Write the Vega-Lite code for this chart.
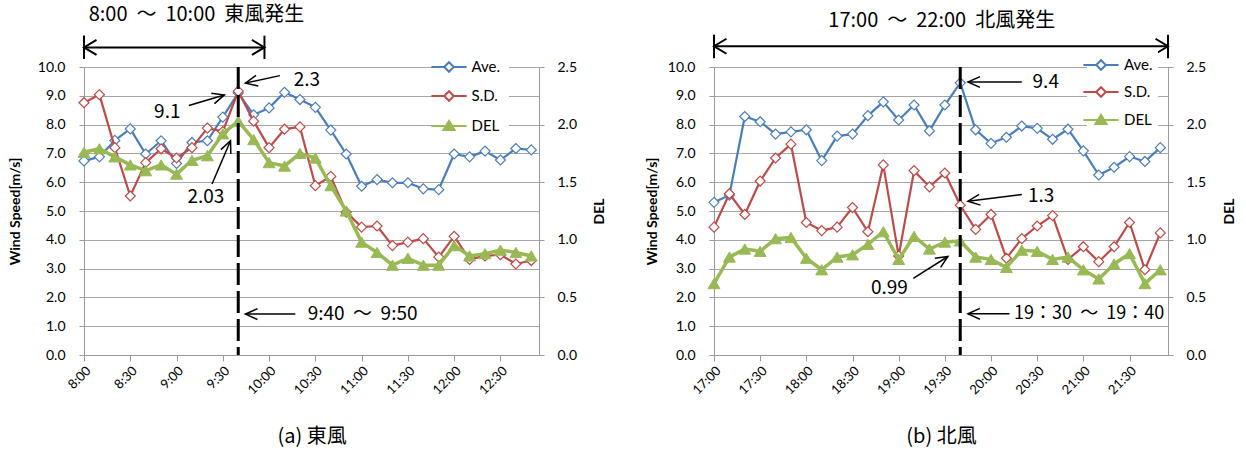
{
"$schema": "https://vega.github.io/schema/vega-lite/v6.json",
"background": "white",
"padding": {"left": 8, "right": 5, "top": 5, "bottom": 2},
"bounds": "flush",
"spacing": 175,
"config": {"view": {"stroke": null}, "font": "Lato",
  "axis": {"domainColor": "#9a9a9a", "tickColor": "#9a9a9a", "labelColor": "#000000", "titleColor": "#000000", "labelFont": "Lato", "titleFont": "Lato"}},
"datasets": {
 "east": [
  {"t":"2020-01-01T08:00","Ave":6.74,"SD":2.19,"DEL":1.76},
  {"t":"2020-01-01T08:10","Ave":6.88,"SD":2.26,"DEL":1.79},
  {"t":"2020-01-01T08:20","Ave":7.45,"SD":1.80,"DEL":1.72},
  {"t":"2020-01-01T08:30","Ave":7.85,"SD":1.38,"DEL":1.65},
  {"t":"2020-01-01T08:40","Ave":6.98,"SD":1.67,"DEL":1.60},
  {"t":"2020-01-01T08:50","Ave":7.44,"SD":1.79,"DEL":1.65},
  {"t":"2020-01-01T09:00","Ave":6.65,"SD":1.71,"DEL":1.57},
  {"t":"2020-01-01T09:10","Ave":7.38,"SD":1.80,"DEL":1.69},
  {"t":"2020-01-01T09:20","Ave":7.44,"SD":1.97,"DEL":1.73},
  {"t":"2020-01-01T09:30","Ave":8.26,"SD":1.94,"DEL":1.92},
  {"t":"2020-01-01T09:40","Ave":9.10,"SD":2.29,"DEL":2.03},
  {"t":"2020-01-01T09:50","Ave":8.34,"SD":2.03,"DEL":1.87},
  {"t":"2020-01-01T10:00","Ave":8.58,"SD":1.80,"DEL":1.67},
  {"t":"2020-01-01T10:10","Ave":9.12,"SD":1.96,"DEL":1.64},
  {"t":"2020-01-01T10:20","Ave":8.87,"SD":1.98,"DEL":1.75},
  {"t":"2020-01-01T10:30","Ave":8.60,"SD":1.47,"DEL":1.71},
  {"t":"2020-01-01T10:40","Ave":7.81,"SD":1.55,"DEL":1.47},
  {"t":"2020-01-01T10:50","Ave":6.98,"SD":1.24,"DEL":1.25},
  {"t":"2020-01-01T11:00","Ave":5.86,"SD":1.11,"DEL":0.98},
  {"t":"2020-01-01T11:10","Ave":6.09,"SD":1.12,"DEL":0.89},
  {"t":"2020-01-01T11:20","Ave":5.98,"SD":0.95,"DEL":0.78},
  {"t":"2020-01-01T11:30","Ave":5.98,"SD":0.98,"DEL":0.84},
  {"t":"2020-01-01T11:40","Ave":5.77,"SD":1.01,"DEL":0.78},
  {"t":"2020-01-01T11:50","Ave":5.74,"SD":0.85,"DEL":0.78},
  {"t":"2020-01-01T12:00","Ave":6.98,"SD":1.03,"DEL":0.95},
  {"t":"2020-01-01T12:10","Ave":6.88,"SD":0.83,"DEL":0.86},
  {"t":"2020-01-01T12:20","Ave":7.08,"SD":0.86,"DEL":0.88},
  {"t":"2020-01-01T12:30","Ave":6.77,"SD":0.87,"DEL":0.91},
  {"t":"2020-01-01T12:40","Ave":7.17,"SD":0.79,"DEL":0.89},
  {"t":"2020-01-01T12:50","Ave":7.12,"SD":0.82,"DEL":0.86}
 ],
 "north": [
  {"t":"2020-01-01T17:00","Ave":5.30,"SD":1.11,"DEL":0.62},
  {"t":"2020-01-01T17:10","Ave":5.55,"SD":1.40,"DEL":0.85},
  {"t":"2020-01-01T17:20","Ave":8.28,"SD":1.22,"DEL":0.92},
  {"t":"2020-01-01T17:30","Ave":8.10,"SD":1.51,"DEL":0.90},
  {"t":"2020-01-01T17:40","Ave":7.67,"SD":1.71,"DEL":1.01},
  {"t":"2020-01-01T17:50","Ave":7.75,"SD":1.83,"DEL":1.02},
  {"t":"2020-01-01T18:00","Ave":7.82,"SD":1.15,"DEL":0.84},
  {"t":"2020-01-01T18:10","Ave":6.75,"SD":1.08,"DEL":0.74},
  {"t":"2020-01-01T18:20","Ave":7.60,"SD":1.11,"DEL":0.85},
  {"t":"2020-01-01T18:30","Ave":7.67,"SD":1.28,"DEL":0.87},
  {"t":"2020-01-01T18:40","Ave":8.31,"SD":1.07,"DEL":0.96},
  {"t":"2020-01-01T18:50","Ave":8.79,"SD":1.65,"DEL":1.07},
  {"t":"2020-01-01T19:00","Ave":8.16,"SD":0.86,"DEL":0.83},
  {"t":"2020-01-01T19:10","Ave":8.68,"SD":1.60,"DEL":1.03},
  {"t":"2020-01-01T19:20","Ave":7.78,"SD":1.46,"DEL":0.92},
  {"t":"2020-01-01T19:30","Ave":8.68,"SD":1.58,"DEL":0.98},
  {"t":"2020-01-01T19:40","Ave":9.45,"SD":1.30,"DEL":0.99},
  {"t":"2020-01-01T19:50","Ave":7.82,"SD":1.09,"DEL":0.85},
  {"t":"2020-01-01T20:00","Ave":7.35,"SD":1.22,"DEL":0.83},
  {"t":"2020-01-01T20:10","Ave":7.56,"SD":0.84,"DEL":0.76},
  {"t":"2020-01-01T20:20","Ave":7.95,"SD":1.01,"DEL":0.91},
  {"t":"2020-01-01T20:30","Ave":7.87,"SD":1.12,"DEL":0.90},
  {"t":"2020-01-01T20:40","Ave":7.49,"SD":1.21,"DEL":0.83},
  {"t":"2020-01-01T20:50","Ave":7.84,"SD":0.83,"DEL":0.85},
  {"t":"2020-01-01T21:00","Ave":7.09,"SD":0.94,"DEL":0.74},
  {"t":"2020-01-01T21:10","Ave":6.25,"SD":0.81,"DEL":0.66},
  {"t":"2020-01-01T21:20","Ave":6.52,"SD":0.94,"DEL":0.79},
  {"t":"2020-01-01T21:30","Ave":6.89,"SD":1.15,"DEL":0.88},
  {"t":"2020-01-01T21:40","Ave":6.72,"SD":0.74,"DEL":0.62},
  {"t":"2020-01-01T21:50","Ave":7.20,"SD":1.06,"DEL":0.74}
 ]
},
"hconcat": [
 {
  "width": 455, "height": 288,
  "data": {"name": "east"},
  "layer": [
   {
    "encoding": {
     "x": {"field": "t", "type": "temporal",
       "scale": {"domain": [{"year":2020,"month":1,"date":1,"hours":8,"minutes":0},{"year":2020,"month":1,"date":1,"hours":12,"minutes":55}]},
       "axis": {"title": "(a) 東風", "titleFont": "Noto Sans CJK JP", "titleFontSize": 20, "titleFontWeight": "normal", "titlePadding": 30, "format": "%H:%M", "values": [
         {"year":2020,"month":1,"date":1,"hours":8,"minutes":0},{"year":2020,"month":1,"date":1,"hours":8,"minutes":30},
         {"year":2020,"month":1,"date":1,"hours":9,"minutes":0},{"year":2020,"month":1,"date":1,"hours":9,"minutes":30},
         {"year":2020,"month":1,"date":1,"hours":10,"minutes":0},{"year":2020,"month":1,"date":1,"hours":10,"minutes":30},
         {"year":2020,"month":1,"date":1,"hours":11,"minutes":0},{"year":2020,"month":1,"date":1,"hours":11,"minutes":30},
         {"year":2020,"month":1,"date":1,"hours":12,"minutes":0},{"year":2020,"month":1,"date":1,"hours":12,"minutes":30}],
         "labelExpr": "replace(datum.label, /^0/, '')", "labelAngle": -45, "labelFontSize": 13, "grid": false, "tickSize": 6, "labelPadding": 3}},
     "y": {"field": "Ave", "type": "quantitative", "scale": {"domain": [0, 10], "nice": false},
       "axis": {"title": "Wind Speed[m/s]", "titleFontSize": 14, "titleFontWeight": "bold", "titlePadding": 15, "values": [0,1,2,3,4,5,6,7,8,9,10], "format": ".1f", "labelFontSize": 14, "labelPadding": 14, "tickSize": 5, "grid": true, "gridColor": "#a6a6a6"}},
     "stroke": {"datum": "Ave.", "type": "nominal", "scale": {"domain": ["Ave.", "S.D.", "DEL"], "range": ["#4A7EBB", "#BE4B48", "#98B954"]},
       "legend": {"orient": "none", "legendX": 348, "legendY": -17, "title": null, "fillColor": "white", "padding": 8, "symbolSize": 256, "labelFontSize": 15, "labelColor": "black", "labelOffset": 13.5, "rowPadding": 11,
         "encode": {"symbols": {"update": {
           "shape": {"signal": "datum.value === 'DEL' ? 'M-2.2,0L2.2,0M0,-0.65L0.7,0.5L-0.7,0.5Z' : 'M-2.2,0L-0.6,0M0.6,0L2.2,0M-0.6,0L0,-0.6L0.6,0L0,0.6Z'"},
           "fill": {"signal": "datum.value === 'DEL' ? '#98B954' : 'white'"},
           "stroke": {"signal": "datum.value === 'Ave.' ? '#4A7EBB' : datum.value === 'S.D.' ? '#BE4B48' : '#98B954'"},
           "strokeWidth": {"value": 2}, "opacity": {"value": 1}, "size": {"value": 256}}}}}}
    },
    "layer": [
     {"mark": {"type": "line", "strokeWidth": 2.2, "strokeJoin": "round"}},
     {"mark": {"type": "point", "shape": "diamond", "size": 100, "filled": false, "fill": "white", "fillOpacity": 1, "strokeWidth": 1.2, "opacity": 1}}
    ]
   },
   {
    "encoding": {
     "x": {"field": "t", "type": "temporal", "scale": {"domain": [{"year":2020,"month":1,"date":1,"hours":8,"minutes":0},{"year":2020,"month":1,"date":1,"hours":12,"minutes":55}]}}
    },
    "layer": [
     {"mark": {"type": "line", "strokeWidth": 2.2, "strokeJoin": "round"},
      "encoding": {"y": {"field": "SD", "type": "quantitative", "scale": {"domain": [0, 2.5], "nice": false},
         "axis": {"orient": "right", "title": "DEL", "titleAngle": 270, "titleFontSize": 14, "titleFontWeight": "bold", "titlePadding": 30, "values": [0,0.5,1,1.5,2,2.5], "format": ".1f", "labelFontSize": 14, "labelPadding": 13, "tickSize": 5, "grid": false}},
        "stroke": {"datum": "S.D.", "type": "nominal"}}},
     {"mark": {"type": "point", "shape": "diamond", "size": 100, "filled": false, "fill": "white", "fillOpacity": 1, "strokeWidth": 1.2, "opacity": 1},
      "encoding": {"y": {"field": "SD", "type": "quantitative", "scale": {"domain": [0, 2.5], "nice": false}},
        "stroke": {"datum": "S.D.", "type": "nominal"}}},
     {"mark": {"type": "line", "strokeWidth": 3.5, "strokeJoin": "round"},
      "encoding": {"y": {"field": "DEL", "type": "quantitative", "scale": {"domain": [0, 2.5], "nice": false}},
        "stroke": {"datum": "DEL", "type": "nominal"}}},
     {"mark": {"type": "point", "shape": "triangle-up", "size": 140, "filled": false, "fill": "#98B954", "fillOpacity": 1, "strokeWidth": 1, "opacity": 1},
      "encoding": {"y": {"field": "DEL", "type": "quantitative", "scale": {"domain": [0, 2.5], "nice": false}},
        "stroke": {"datum": "DEL", "type": "nominal"}}}
    ]
   },
   {
    "encoding": {
     "x": {"field": "t", "type": "temporal", "scale": {"domain": [{"year":2020,"month":1,"date":1,"hours":8,"minutes":0},{"year":2020,"month":1,"date":1,"hours":12,"minutes":55}]}},
     "y": {"field": "v", "type": "quantitative", "scale": {"domain": [0, 10], "nice": false}, "axis": null}
    },
    "layer": [
     {"data": {"values": [{"t":"2020-01-01T09:40","v":10,"t2":"2020-01-01T09:40","v2":0}]},
      "mark": {"type": "rule", "color": "black", "strokeWidth": 3, "strokeDash": [22, 6]},
      "encoding": {"x2": {"field": "t2"}, "y2": {"field": "v2"}}},
     {"data": {"values": [
        {"t":"2020-01-01T09:08","v":8.66,"t2":"2020-01-01T09:31","v2":9.03},
        {"t":"2020-01-01T10:07","v":9.70,"t2":"2020-01-01T09:44:40","v2":9.44},
        {"t":"2020-01-01T09:23","v":5.94,"t2":"2020-01-01T09:35","v2":7.44},
        {"t":"2020-01-01T10:17","v":1.42,"t2":"2020-01-01T09:44:40","v2":1.42}]},
      "mark": {"type": "rule", "color": "black", "strokeWidth": 1.5},
      "encoding": {"x2": {"field": "t2"}, "y2": {"field": "v2"}}},
     {"data": {"values": [
        {"t":"2020-01-01T08:00","v":10.68,"t2":"2020-01-01T09:57","v2":10.68},
        {"t":"2020-01-01T08:00","v":10.28,"t2":"2020-01-01T08:00","v2":11.09},
        {"t":"2020-01-01T09:57","v":10.28,"t2":"2020-01-01T09:57","v2":11.09}]},
      "mark": {"type": "rule", "color": "black", "strokeWidth": 2},
      "encoding": {"x2": {"field": "t2"}, "y2": {"field": "v2"}}},
     {"data": {"values": [{"t":"2020-01-01T09:31","v":9.03}]},
      "mark": {"type": "point", "shape": "M1,-0.45L0,0L1,0.45", "angle": 163, "size": 576, "filled": false, "stroke": "black", "strokeWidth": 1.5, "opacity": 1}},
     {"data": {"values": [{"t":"2020-01-01T09:44:40","v":9.44}]},
      "mark": {"type": "point", "shape": "M1,-0.45L0,0L1,0.45", "angle": 348, "size": 576, "filled": false, "stroke": "black", "strokeWidth": 1.5, "opacity": 1}},
     {"data": {"values": [{"t":"2020-01-01T09:35","v":7.44}]},
      "mark": {"type": "point", "shape": "M1,-0.45L0,0L1,0.45", "angle": 113, "size": 576, "filled": false, "stroke": "black", "strokeWidth": 1.5, "opacity": 1}},
     {"data": {"values": [{"t":"2020-01-01T09:44:40","v":1.42}]},
      "mark": {"type": "point", "shape": "M1,-0.45L0,0L1,0.45", "angle": 0, "size": 576, "filled": false, "stroke": "black", "strokeWidth": 1.5, "opacity": 1}},
     {"data": {"values": [{"t":"2020-01-01T08:00","v":10.68}]},
      "mark": {"type": "point", "shape": "M1,-0.6L0,0L1,0.6", "angle": 0, "size": 625, "filled": false, "stroke": "black", "strokeWidth": 2, "opacity": 1}},
     {"data": {"values": [{"t":"2020-01-01T09:57","v":10.68}]},
      "mark": {"type": "point", "shape": "M1,-0.6L0,0L1,0.6", "angle": 180, "size": 625, "filled": false, "stroke": "black", "strokeWidth": 2, "opacity": 1}},
     {"data": {"values": [
        {"t":"2020-01-01T08:03","v":11.8,"label":"8:00\u00a0\u00a0～\u00a0\u00a010:00\u00a0\u00a0東風発生"}]},
      "mark": {"type": "text", "align": "left", "baseline": "middle", "font": "Noto Sans CJK JP", "fontSize": 20, "color": "black"},
      "encoding": {"text": {"field": "label"}}},
     {"data": {"values": [
        {"t":"2020-01-01T10:16","v":9.56,"label":"2.3"},
        {"t":"2020-01-01T10:25","v":1.42,"label":"9:40\u00a0\u00a0～\u00a0\u00a09:50"}]},
      "mark": {"type": "text", "align": "left", "baseline": "middle", "font": "Noto Sans CJK JP", "fontSize": 19, "color": "black"},
      "encoding": {"text": {"field": "label"}}},
     {"data": {"values": [
        {"t":"2020-01-01T08:54","v":8.43,"label":"9.1"},
        {"t":"2020-01-01T09:19","v":5.48,"label":"2.03"}]},
      "mark": {"type": "text", "align": "center", "baseline": "middle", "font": "Noto Sans CJK JP", "fontSize": 19, "color": "black"},
      "encoding": {"text": {"field": "label"}}}
    ]
   }
  ],
  "resolve": {"scale": {"y": "independent"}}
 },
 {
  "width": 454, "height": 288,
  "data": {"name": "north"},
  "layer": [
   {
    "encoding": {
     "x": {"field": "t", "type": "temporal",
       "scale": {"domain": [{"year":2020,"month":1,"date":1,"hours":17,"minutes":0},{"year":2020,"month":1,"date":1,"hours":21,"minutes":55}]},
       "axis": {"title": "(b) 北風", "titleFont": "Noto Sans CJK JP", "titleFontSize": 20, "titleFontWeight": "normal", "titlePadding": 30, "format": "%H:%M", "values": [
         {"year":2020,"month":1,"date":1,"hours":17,"minutes":0},{"year":2020,"month":1,"date":1,"hours":17,"minutes":30},
         {"year":2020,"month":1,"date":1,"hours":18,"minutes":0},{"year":2020,"month":1,"date":1,"hours":18,"minutes":30},
         {"year":2020,"month":1,"date":1,"hours":19,"minutes":0},{"year":2020,"month":1,"date":1,"hours":19,"minutes":30},
         {"year":2020,"month":1,"date":1,"hours":20,"minutes":0},{"year":2020,"month":1,"date":1,"hours":20,"minutes":30},
         {"year":2020,"month":1,"date":1,"hours":21,"minutes":0},{"year":2020,"month":1,"date":1,"hours":21,"minutes":30}],
         "labelAngle": -45, "labelFontSize": 13, "grid": false, "tickSize": 6, "labelPadding": 3}},
     "y": {"field": "Ave", "type": "quantitative", "scale": {"domain": [0, 10], "nice": false},
       "axis": {"title": "Wind Speed[m/s]", "titleFontSize": 14, "titleFontWeight": "bold", "titlePadding": 8, "values": [0,1,2,3,4,5,6,7,8,9,10], "format": ".1f", "labelFontSize": 14, "labelPadding": 14, "tickSize": 5, "grid": true, "gridColor": "#a6a6a6"}},
     "stroke": {"datum": "Ave.", "type": "nominal", "scale": {"domain": ["Ave.", "S.D.", "DEL"], "range": ["#4A7EBB", "#BE4B48", "#98B954"]},
       "legend": {"orient": "none", "legendX": 373, "legendY": -16, "title": null, "fillColor": "white", "padding": 5, "symbolSize": 256, "labelFontSize": 15, "labelColor": "black", "labelOffset": 14, "rowPadding": 9,
         "encode": {"symbols": {"update": {
           "shape": {"signal": "datum.value === 'DEL' ? 'M-2.2,0L2.2,0M0,-0.65L0.7,0.5L-0.7,0.5Z' : 'M-2.2,0L-0.6,0M0.6,0L2.2,0M-0.6,0L0,-0.6L0.6,0L0,0.6Z'"},
           "fill": {"signal": "datum.value === 'DEL' ? '#98B954' : 'white'"},
           "stroke": {"signal": "datum.value === 'Ave.' ? '#4A7EBB' : datum.value === 'S.D.' ? '#BE4B48' : '#98B954'"},
           "strokeWidth": {"value": 2}, "opacity": {"value": 1}, "size": {"value": 256}}}}}}
    },
    "layer": [
     {"mark": {"type": "line", "strokeWidth": 2.2, "strokeJoin": "round"}},
     {"mark": {"type": "point", "shape": "diamond", "size": 100, "filled": false, "fill": "white", "fillOpacity": 1, "strokeWidth": 1.2, "opacity": 1}}
    ]
   },
   {
    "encoding": {
     "x": {"field": "t", "type": "temporal", "scale": {"domain": [{"year":2020,"month":1,"date":1,"hours":17,"minutes":0},{"year":2020,"month":1,"date":1,"hours":21,"minutes":55}]}}
    },
    "layer": [
     {"mark": {"type": "line", "strokeWidth": 2.2, "strokeJoin": "round"},
      "encoding": {"y": {"field": "SD", "type": "quantitative", "scale": {"domain": [0, 2.5], "nice": false},
         "axis": {"orient": "right", "title": "DEL", "titleAngle": 270, "titleFontSize": 14, "titleFontWeight": "bold", "titlePadding": 31, "values": [0,0.5,1,1.5,2,2.5], "format": ".1f", "labelFontSize": 14, "labelPadding": 13, "tickSize": 5, "grid": false}},
        "stroke": {"datum": "S.D.", "type": "nominal"}}},
     {"mark": {"type": "point", "shape": "diamond", "size": 100, "filled": false, "fill": "white", "fillOpacity": 1, "strokeWidth": 1.2, "opacity": 1},
      "encoding": {"y": {"field": "SD", "type": "quantitative", "scale": {"domain": [0, 2.5], "nice": false}},
        "stroke": {"datum": "S.D.", "type": "nominal"}}},
     {"mark": {"type": "line", "strokeWidth": 3.5, "strokeJoin": "round"},
      "encoding": {"y": {"field": "DEL", "type": "quantitative", "scale": {"domain": [0, 2.5], "nice": false}},
        "stroke": {"datum": "DEL", "type": "nominal"}}},
     {"mark": {"type": "point", "shape": "triangle-up", "size": 140, "filled": false, "fill": "#98B954", "fillOpacity": 1, "strokeWidth": 1, "opacity": 1},
      "encoding": {"y": {"field": "DEL", "type": "quantitative", "scale": {"domain": [0, 2.5], "nice": false}},
        "stroke": {"datum": "DEL", "type": "nominal"}}}
    ]
   },
   {
    "encoding": {
     "x": {"field": "t", "type": "temporal", "scale": {"domain": [{"year":2020,"month":1,"date":1,"hours":17,"minutes":0},{"year":2020,"month":1,"date":1,"hours":21,"minutes":55}]}},
     "y": {"field": "v", "type": "quantitative", "scale": {"domain": [0, 10], "nice": false}, "axis": null}
    },
    "layer": [
     {"data": {"values": [{"t":"2020-01-01T19:40","v":10,"t2":"2020-01-01T19:40","v2":0}]},
      "mark": {"type": "rule", "color": "black", "strokeWidth": 3, "strokeDash": [22, 6]},
      "encoding": {"x2": {"field": "t2"}, "y2": {"field": "v2"}}},
     {"data": {"values": [
        {"t":"2020-01-01T20:20","v":9.48,"t2":"2020-01-01T19:45","v2":9.48},
        {"t":"2020-01-01T20:20","v":5.57,"t2":"2020-01-01T19:45","v2":5.34},
        {"t":"2020-01-01T19:09:30","v":2.66,"t2":"2020-01-01T19:32","v2":3.42},
        {"t":"2020-01-01T20:12","v":1.43,"t2":"2020-01-01T19:45","v2":1.43}]},
      "mark": {"type": "rule", "color": "black", "strokeWidth": 1.5},
      "encoding": {"x2": {"field": "t2"}, "y2": {"field": "v2"}}},
     {"data": {"values": [
        {"t":"2020-01-01T17:00","v":10.72,"t2":"2020-01-01T21:55","v2":10.72},
        {"t":"2020-01-01T17:00","v":10.30,"t2":"2020-01-01T17:00","v2":11.12},
        {"t":"2020-01-01T21:55","v":10.30,"t2":"2020-01-01T21:55","v2":11.12}]},
      "mark": {"type": "rule", "color": "black", "strokeWidth": 2},
      "encoding": {"x2": {"field": "t2"}, "y2": {"field": "v2"}}},
     {"data": {"values": [{"t":"2020-01-01T19:45","v":9.48},{"t":"2020-01-01T19:45","v":1.43}]},
      "mark": {"type": "point", "shape": "M1,-0.45L0,0L1,0.45", "angle": 0, "size": 576, "filled": false, "stroke": "black", "strokeWidth": 1.5, "opacity": 1}},
     {"data": {"values": [{"t":"2020-01-01T19:45","v":5.34}]},
      "mark": {"type": "point", "shape": "M1,-0.45L0,0L1,0.45", "angle": 353, "size": 576, "filled": false, "stroke": "black", "strokeWidth": 1.5, "opacity": 1}},
     {"data": {"values": [{"t":"2020-01-01T19:32","v":3.42}]},
      "mark": {"type": "point", "shape": "M1,-0.45L0,0L1,0.45", "angle": 148, "size": 576, "filled": false, "stroke": "black", "strokeWidth": 1.5, "opacity": 1}},
     {"data": {"values": [{"t":"2020-01-01T17:00","v":10.72}]},
      "mark": {"type": "point", "shape": "M1,-0.6L0,0L1,0.6", "angle": 0, "size": 625, "filled": false, "stroke": "black", "strokeWidth": 2, "opacity": 1}},
     {"data": {"values": [{"t":"2020-01-01T21:55","v":10.72}]},
      "mark": {"type": "point", "shape": "M1,-0.6L0,0L1,0.6", "angle": 180, "size": 625, "filled": false, "stroke": "black", "strokeWidth": 2, "opacity": 1}},
     {"data": {"values": [
        {"t":"2020-01-01T20:27","v":9.48,"label":"9.4"},
        {"t":"2020-01-01T20:24","v":5.51,"label":"1.3"}]},
      "mark": {"type": "text", "align": "left", "baseline": "middle", "font": "Noto Sans CJK JP", "fontSize": 19, "color": "black"},
      "encoding": {"text": {"field": "label"}}},
     {"data": {"values": [
        {"t":"2020-01-01T20:15","v":1.43,"label":"19：30\u00a0\u00a0～\u00a0\u00a019：40"}]},
      "mark": {"type": "text", "align": "left", "baseline": "middle", "font": "Noto Sans CJK JP", "fontSize": 18, "color": "black"},
      "encoding": {"text": {"field": "label"}}},
     {"data": {"values": [
        {"t":"2020-01-01T19:28","v":11.6,"label":"17:00\u00a0\u00a0～\u00a0\u00a022:00\u00a0\u00a0北風発生"}]},
      "mark": {"type": "text", "align": "center", "baseline": "middle", "font": "Noto Sans CJK JP", "fontSize": 20, "color": "black"},
      "encoding": {"text": {"field": "label"}}},
     {"data": {"values": [
        {"t":"2020-01-01T18:54","v":2.33,"label":"0.99"}]},
      "mark": {"type": "text", "align": "center", "baseline": "middle", "font": "Noto Sans CJK JP", "fontSize": 19, "color": "black"},
      "encoding": {"text": {"field": "label"}}}
    ]
   }
  ],
  "resolve": {"scale": {"y": "independent"}}
 }
],
"resolve": {"scale": {"x": "independent", "y": "independent", "stroke": "independent"}, "legend": {"stroke": "independent"}}
}
